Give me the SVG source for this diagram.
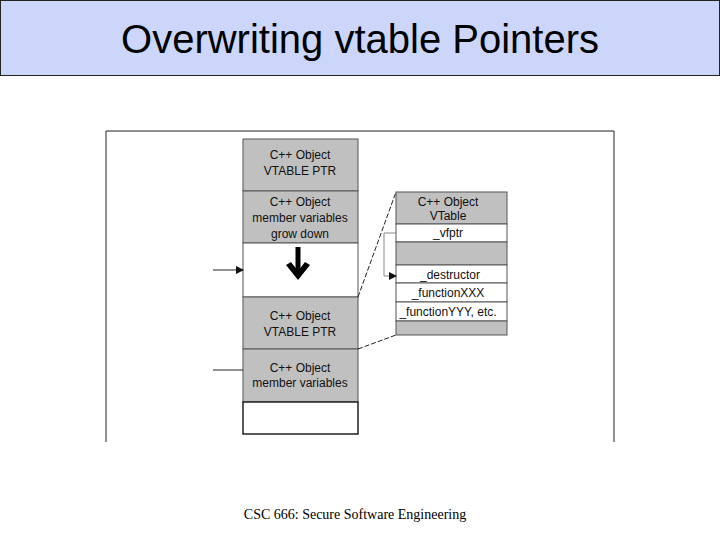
<svg xmlns="http://www.w3.org/2000/svg" width="720" height="540" viewBox="0 0 720 540">
<defs>
<style>
.g{fill:#c0c0c0;stroke:#555;stroke-width:1}
.w{fill:#fff;stroke:#555;stroke-width:1}
.t{font-family:"Liberation Sans Narrow","Liberation Sans",Arial,sans-serif;font-size:12px;text-anchor:middle;fill:#111}
.c{stroke:#222;stroke-width:1;fill:none}
</style>
<marker id="ah" markerWidth="8" markerHeight="8" refX="7" refY="4" orient="auto" markerUnits="userSpaceOnUse"><path d="M0,0 L8,4 L0,8 Z" fill="#111"/></marker>
</defs>
<rect width="720" height="540" fill="#fff"/>
<g id="title">
<rect x="0.5" y="0.5" width="719" height="75" fill="#ccd6fa" stroke="#222"/>
<text x="360" y="53" font-family="Liberation Sans,Arial,sans-serif" font-size="40" text-anchor="middle" fill="#000">Overwriting vtable Pointers</text>
</g>
<path d="M106,442 V131 H614 V442" fill="none" stroke="#222" stroke-width="1"/>
<g id="stack">
<g id="s1"><rect class="g" x="243" y="139" width="115" height="52"/><text class="t" x="300" y="159">C++ Object</text><text class="t" x="300" y="175">VTABLE PTR</text></g>
<g id="s2"><rect class="g" x="243" y="191" width="115" height="52"/><text class="t" x="300" y="206">C++ Object</text><text class="t" x="300" y="222">member variables</text><text class="t" x="300" y="238">grow down</text></g>
<g id="s3"><rect class="w" x="243" y="243" width="115" height="54"/><path d="M298,247 V272" stroke="#000" stroke-width="5"/><path d="M286,265 L298,280 L310,265 L305,262 L298,271 L291,262 Z" fill="#000"/></g>
<g id="s4"><rect class="g" x="243" y="297" width="115" height="52"/><text class="t" x="300" y="320">C++ Object</text><text class="t" x="300" y="336">VTABLE PTR</text></g>
<g id="s5"><rect class="g" x="243" y="349" width="115" height="53"/><text class="t" x="300" y="372">C++ Object</text><text class="t" x="300" y="387">member variables</text></g>
<g id="s6"><rect x="243" y="402" width="115" height="32" fill="#fff" stroke="#222" stroke-width="1.5"/></g>
</g>
<g id="vtable">
<rect class="g" x="396" y="192" width="111" height="32"/><text class="t" x="448" y="206">C++ Object</text><text class="t" x="448" y="220">VTable</text>
<rect class="w" x="396" y="224" width="111" height="18"/><text class="t" x="448" y="237">_vfptr</text>
<rect class="g" x="396" y="242" width="111" height="23"/>
<rect class="w" x="396" y="265" width="111" height="18"/><text class="t" x="450" y="279">_destructor</text>
<rect class="w" x="396" y="283" width="111" height="19"/><text class="t" x="448" y="297">_functionXXX</text>
<rect class="w" x="396" y="302" width="111" height="19"/><text class="t" x="448" y="316">_functionYYY, etc.</text>
<rect class="g" x="396" y="321" width="111" height="14"/>
</g>
<g id="connectors">
<path class="c" d="M213,270 H243" marker-end="url(#ah)"/>
<path class="c" d="M213,370 H243"/>
<path class="c" d="M358,297 L396,192" stroke-dasharray="5,2"/>
<path class="c" d="M358,349 L396,335" stroke-dasharray="5,2"/>
<path d="M396,233 H384 V276 H396" fill="none" stroke="#888" stroke-width="1" marker-end="url(#ah)"/>
</g>
<text x="355" y="519" font-family="Liberation Serif,Times New Roman,serif" font-size="14" text-anchor="middle" fill="#000">CSC 666: Secure Software Engineering</text>
</svg>
